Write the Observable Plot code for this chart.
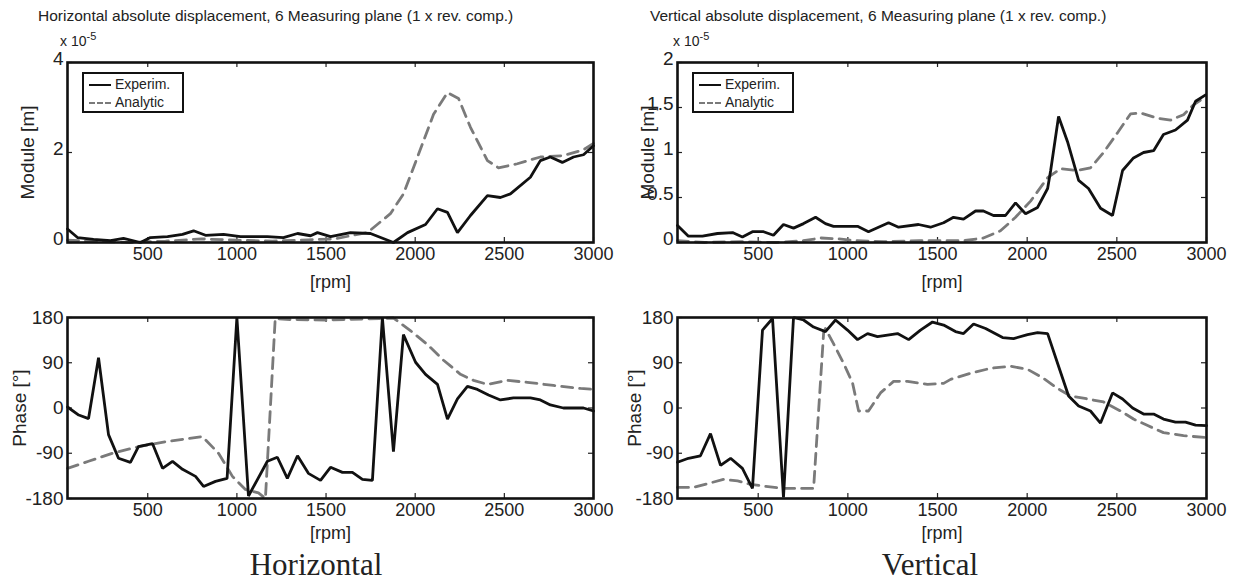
<!DOCTYPE html>
<html><head><meta charset="utf-8">
<script src="https://cdn.jsdelivr.net/npm/d3@7"></script>
<script src="https://cdn.jsdelivr.net/npm/@observablehq/plot@0.6"></script>
<style>
body{margin:0;background:#fff;width:1241px;height:582px;position:relative;overflow:hidden;font-family:"Liberation Sans",Arial,sans-serif;color:#222}
.abs{position:absolute}
.title{font-size:15.5px;white-space:nowrap;line-height:16px}
.exp{font-size:14px;white-space:nowrap;line-height:14px}
.legend{border:2px solid #111;background:#fff;font-size:14px;box-sizing:border-box}
.row{position:absolute;left:5px;white-space:nowrap;line-height:16px}
.sw{display:inline-block;width:22px;vertical-align:middle;margin-right:4px}
.caption{font-family:"Liberation Serif","Times New Roman",serif;font-size:31px;line-height:31px;white-space:nowrap;transform:translateX(-50%)}
</style></head><body>
<script>
// ---- data (module values in units of 1e-5 m, phase in degrees) ----
const xTickValues = [500, 1000, 1500, 2000, 2500, 3000];
const hModTicks = [0, 2, 4];
const vModTicks = [0, 0.5, 1, 1.5, 2];
const phaseTicks = [-180, -90, 0, 90, 180];

const hModExp = [[50,0.3],[106,0.11],[196,0.07],[291,0.04],[364,0.09],[459,0.0],[515,0.11],[611,0.13],[695,0.18],[757,0.26],[824,0.16],[925,0.18],[1020,0.13],[1171,0.13],[1261,0.11],[1340,0.2],[1413,0.15],[1452,0.22],[1525,0.13],[1637,0.22],[1749,0.2],[1878,0.0],[1957,0.22],[2058,0.4],[2125,0.75],[2181,0.67],[2237,0.22],[2310,0.6],[2405,1.04],[2478,1.0],[2534,1.08],[2646,1.45],[2702,1.82],[2758,1.9],[2825,1.78],[2888,1.9],[2944,1.95],[3000,2.15]];
const hModAna = [[50,0.05],[200,0.03],[400,0.0],[600,0.03],[800,0.08],[1000,0.05],[1200,0.03],[1400,0.06],[1550,0.08],[1637,0.15],[1732,0.22],[1861,0.64],[1934,1.08],[2013,1.9],[2103,2.85],[2181,3.33],[2243,3.2],[2310,2.56],[2405,1.82],[2467,1.66],[2573,1.75],[2702,1.9],[2831,1.93],[2944,2.06],[3000,2.2]];

const vModExp = [[50,0.19],[111,0.07],[189,0.07],[273,0.1],[357,0.11],[412,0.06],[468,0.12],[530,0.12],[585,0.08],[641,0.2],[697,0.16],[753,0.21],[820,0.28],[875,0.21],[920,0.18],[1054,0.18],[1115,0.12],[1171,0.17],[1227,0.22],[1283,0.17],[1394,0.2],[1461,0.17],[1534,0.22],[1589,0.28],[1645,0.26],[1712,0.35],[1756,0.35],[1812,0.3],[1879,0.3],[1935,0.44],[1991,0.32],[2058,0.39],[2114,0.6],[2131,0.8],[2175,1.4],[2225,1.12],[2287,0.69],[2342,0.6],[2409,0.38],[2476,0.3],[2532,0.8],[2593,0.94],[2649,1.0],[2705,1.02],[2760,1.2],[2827,1.25],[2894,1.36],[2939,1.57],[2995,1.64]];
const vModAna = [[50,0.02],[200,0.0],[400,0.01],[600,0.0],[750,0.02],[850,0.05],[950,0.04],[1050,0.02],[1200,0.01],[1400,0.02],[1645,0.02],[1756,0.05],[1851,0.13],[1935,0.28],[2019,0.46],[2114,0.72],[2186,0.82],[2281,0.8],[2353,0.83],[2426,1.0],[2504,1.22],[2577,1.43],[2632,1.44],[2727,1.38],[2800,1.36],[2872,1.42],[2928,1.53],[2995,1.62]];

const hPhExp = [[50,2],[113,-14],[168,-21],[224,100],[280,-53],[336,-100],[403,-108],[448,-77],[527,-71],[583,-120],[639,-106],[695,-122],[768,-136],[813,-156],[880,-146],[945,-140],[1000,180],[1065,-175],[1171,-106],[1227,-98],[1283,-140],[1340,-95],[1401,-130],[1469,-144],[1525,-118],[1592,-128],[1648,-128],[1704,-142],[1760,-144],[1816,180],[1878,-87],[1934,146],[2002,91],[2058,67],[2125,47],[2181,-22],[2237,18],[2293,43],[2349,37],[2411,26],[2478,16],[2551,20],[2646,20],[2702,16],[2758,6],[2831,0],[2944,0],[3000,-6]];
const hPhAna = [[50,-120],[168,-106],[302,-90],[448,-77],[600,-67],[807,-57],[897,-90],[975,-136],[1048,-162],[1121,-169],[1160,-180],[1215,178],[1300,176],[1500,175],[1700,177],[1800,178],[1878,179],[1973,154],[2069,126],[2159,95],[2254,67],[2327,55],[2405,47],[2517,55],[2629,51],[2775,45],[2927,39],[3000,37]];

const vPhExp = [[50,-108],[111,-100],[178,-95],[234,-51],[290,-114],[346,-100],[412,-120],[468,-160],[524,155],[580,178],[641,-178],[697,180],[753,175],[809,161],[875,152],[931,175],[998,155],[1054,136],[1110,148],[1165,142],[1277,148],[1339,136],[1405,155],[1472,171],[1534,165],[1600,152],[1645,148],[1701,167],[1768,158],[1863,140],[1924,138],[2002,146],[2058,150],[2114,148],[2175,83],[2231,24],[2287,4],[2353,-6],[2409,-30],[2476,30],[2532,18],[2588,0],[2649,-12],[2705,-12],[2760,-22],[2827,-28],[2883,-28],[2939,-34],[3000,-35]];
const vPhAna = [[50,-158],[139,-158],[306,-142],[385,-145],[457,-152],[641,-160],[775,-160],[809,-160],[865,150],[875,158],[920,128],[976,89],[1026,50],[1060,-6],[1115,-6],[1182,30],[1255,53],[1333,53],[1444,47],[1534,49],[1573,57],[1684,69],[1796,79],[1907,83],[2002,77],[2091,59],[2169,39],[2242,24],[2337,18],[2426,12],[2521,-6],[2593,-22],[2672,-35],[2760,-49],[2872,-55],[3000,-59]];

const titles = ["Horizontal absolute displacement, 6 Measuring plane (1 x rev. comp.)",
                "Vertical absolute displacement, 6 Measuring plane (1 x rev. comp.)"];
const captions = ["Horizontal", "Vertical"];
const legendLabels = ["Experim.", "Analytic"];

// ---- drawing ----
const FONT = '"Liberation Sans", Arial, sans-serif';
const fmt = d => String(d);
function panel({exp, ana, yDomain, yTicks, yLabel, width, height, ml, mr, mt, mb, ylo, ydy, xlo}) {
  const xDomain = [50, 3000];
  const tly = (yDomain[1] - yDomain[0]) * 5 / (height - mt - mb);
  const tlx = (xDomain[1] - xDomain[0]) * 5 / (width - ml - mr);
  return Plot.plot({
    width, height, marginLeft: ml, marginRight: mr, marginTop: mt, marginBottom: mb,
    style: {fontSize: "19px", fontFamily: FONT, color: "#222", background: "transparent", overflow: "visible"},
    x: {domain: xDomain},
    y: {domain: yDomain},
    marks: [
      Plot.ruleX(xTickValues, {y1: yDomain[0], y2: yDomain[0] + tly, stroke: "#222", strokeWidth: 1.2}),
      Plot.ruleX(xTickValues, {y1: yDomain[1], y2: yDomain[1] - tly, stroke: "#222", strokeWidth: 1.2}),
      Plot.ruleY(yTicks, {x1: xDomain[0], x2: xDomain[0] + tlx, stroke: "#222", strokeWidth: 1.2}),
      Plot.ruleY(yTicks, {x1: xDomain[1], x2: xDomain[1] - tlx, stroke: "#222", strokeWidth: 1.2}),
      Plot.line(ana, {x: d => d[0], y: d => d[1], stroke: "#7a7a7a", strokeWidth: 2.8, strokeDasharray: "11,7"}),
      Plot.line(exp, {x: d => d[0], y: d => d[1], stroke: "#111", strokeWidth: 2.8, strokeLinejoin: "miter"}),
      Plot.axisX(xTickValues, {tickSize: 0, tickPadding: 5, tickFormat: fmt, label: "[rpm]", labelAnchor: "center", labelOffset: xlo, labelArrow: "none", fontSize: 18}),
      Plot.axisY(yTicks, {tickSize: 0, tickPadding: 4, tickFormat: fmt, dy: ydy, label: yLabel, labelAnchor: "center", labelOffset: ylo, labelArrow: "none"}),
      Plot.frame({stroke: "#111", strokeWidth: 2.6})
    ]
  });
}

function place(el, left, top) {
  const d = document.createElement("div");
  d.className = "abs";
  d.style.left = left + "px"; d.style.top = top + "px";
  d.appendChild(el);
  document.body.appendChild(d);
  return d;
}
function html(str, cls, left, top, extra) {
  const d = document.createElement("div");
  d.className = "abs " + cls;
  d.style.left = left + "px"; d.style.top = top + "px";
  if (extra) Object.assign(d.style, extra);
  d.innerHTML = str;
  document.body.appendChild(d);
  return d;
}

place(panel({exp: hModExp, ana: hModAna, yDomain: [0, 4], yTicks: hModTicks, yLabel: "Module [m]",
  width: 620, height: 300, ml: 67, mr: 27, mt: 62, mb: 58, ylo: 47, ydy: -4, xlo: 45}), 0, 0);
place(panel({exp: vModExp, ana: vModAna, yDomain: [0, 2], yTicks: vModTicks, yLabel: "Module [m]",
  width: 621, height: 300, ml: 57, mr: 35, mt: 62, mb: 58, ylo: 37, ydy: -4, xlo: 45}), 620, 0);
place(panel({exp: hPhExp, ana: hPhAna, yDomain: [-180, 180], yTicks: phaseTicks, yLabel: "Phase [°]",
  width: 620, height: 245, ml: 67, mr: 27, mt: 17, mb: 47, ylo: 55, ydy: 0, xlo: 40}), 0, 300);
place(panel({exp: vPhExp, ana: vPhAna, yDomain: [-180, 180], yTicks: phaseTicks, yLabel: "Phase [°]",
  width: 621, height: 245, ml: 57, mr: 35, mt: 17, mb: 47, ylo: 50, ydy: 0, xlo: 40}), 620, 300);

html(titles[0], "title", 38, 8);
html(titles[1], "title", 650, 8);
html("x 10<sup style='font-size:11px'>-5</sup>", "exp", 60, 29);
html("x 10<sup style='font-size:11px'>-5</sup>", "exp", 673, 29);

function legend(left, top) {
  const box = html("", "legend", left, top, {width: "102px", height: "41px"});
  box.innerHTML =
    `<div class="row" style="top:2px"><span class="sw" style="border-top:2.8px solid #111"></span>${legendLabels[0]}</div>` +
    `<div class="row" style="top:20px"><span class="sw" style="border-top:2.8px dashed #7a7a7a"></span>${legendLabels[1]}</div>`;
}
legend(82, 72);
legend(692, 72);

html(captions[0], "caption", 316, 549);
html(captions[1], "caption", 930, 549);
</script>
</body></html>
